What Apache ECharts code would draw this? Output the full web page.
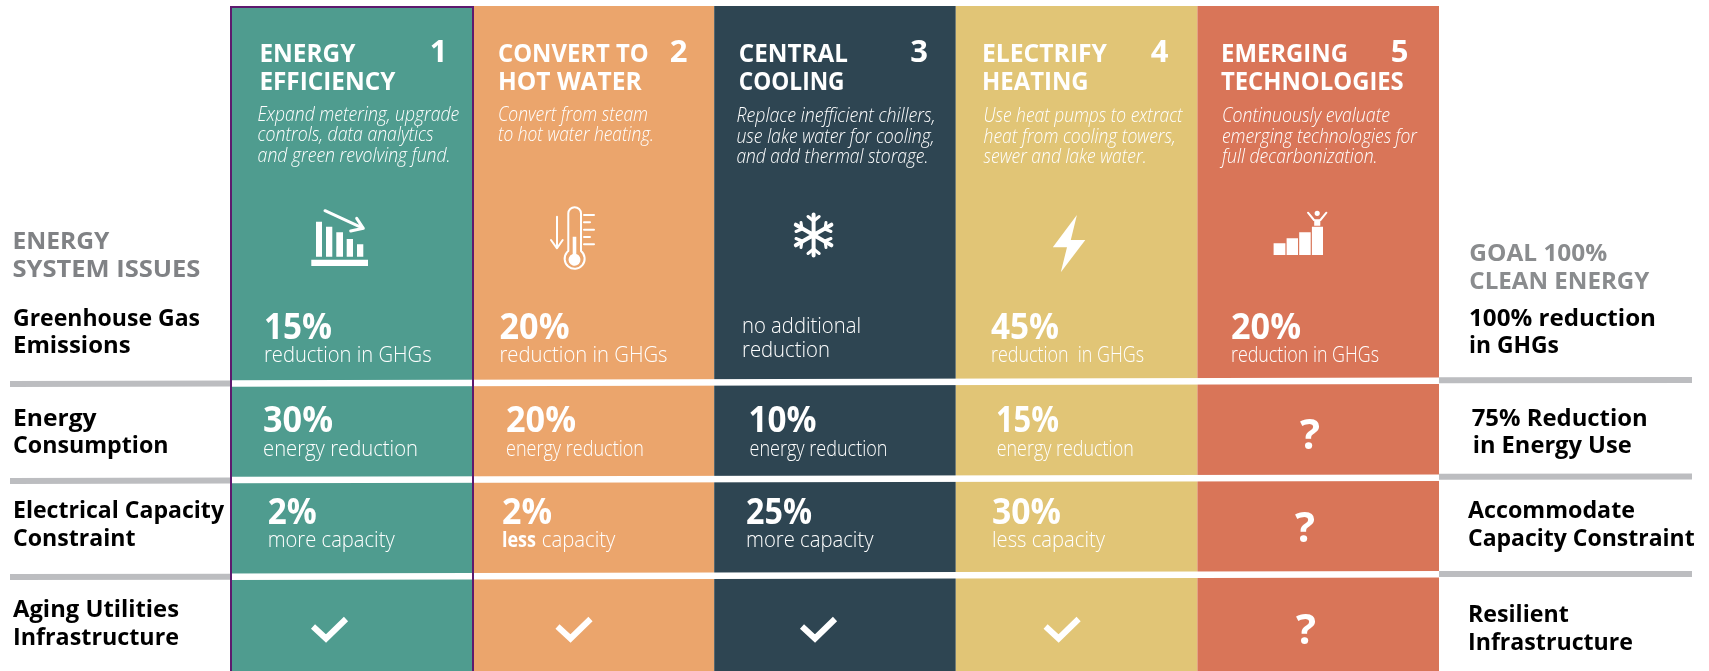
<!DOCTYPE html>
<html>
<head>
<meta charset="utf-8">
<title>Energy system issues</title>
<style>
  html, body { margin: 0; padding: 0; background: #fff; }
  #chart { width: 1709px; height: 671px; }
</style>
<script src="https://cdn.jsdelivr.net/npm/echarts@6/dist/echarts.min.js"></script>
</head>
<body>
<div id="chart"></div>
<script>
// data
const columns = ['Energy Efficiency', 'Convert to Hot Water', 'Central Cooling', 'Electrify Heating', 'Emerging Technologies']
const columnFill = [1, 1, 1, 1, 1]
const columnColors = ['#4f9c8f', '#eba56c', '#2e4552', '#e1c576', '#d97558']
const ghgValues = ['15%', '20%', null, '45%', '20%']
const energyValues = ['30%', '20%', '10%', '15%']
const capacityValues = ['2%', '2%', '25%', '30%']
const whiteRules = [
  [[231, 383.4], [1439, 380.8]],
  [[231, 480], [1439, 477.7]],
  [[231, 576.7], [1439, 574.2]]
]
const greyRules = [
  [[10, 384], [231, 383.6]],
  [[10, 481], [231, 480.6]],
  [[10, 577], [231, 576.8]],
  [[1439, 380.3], [1692, 380]],
  [[1439, 476.8], [1692, 476.5]],
  [[1439, 574], [1692, 574]]
]
// outline of the first column, open at the bottom
const outline = [[231, 672], [231, 7], [473, 7], [473, 672]]

const WHITE = '#ffffff'
const measure = document.createElement('canvas').getContext('2d')
const FONT = '"Open Sans"'
const titleFont = { weight: 700, size: 25 }
const numFont = { weight: 700, size: 31 }
const descFont = { weight: 300, size: 21, italic: true }
const pctFont = { weight: 700, size: 36 }
const subFont = { weight: 300, size: 22 }
const sideFont = { weight: 700, size: 24 }

// text is fitted to the width measured on the reference
const txt = (str, x, base, w, f, fill = WHITE, align = 'left') => {
  const font = `${f.italic ? 'italic ' : ''}${f.weight} ${f.size}px ${FONT}`
  measure.font = font
  return {
    type: 'text',
    x,
    y: base - 0.27 * f.size,
    scaleX: w ? w / measure.measureText(str).width : 1,
    z: 100,
    silent: true,
    style: { text: str, font, fill, align, verticalAlign: 'middle' }
  }
}
const stroke = (pathData, lineWidth) => ({
  type: 'path',
  shape: { pathData },
  style: { fill: 'none', stroke: WHITE, lineWidth, lineCap: 'round', lineJoin: 'round' }
})
const solid = pathData => ({
  type: 'path',
  shape: { pathData },
  style: { fill: WHITE }
})

const texts = [
  // column titles
  txt('ENERGY', 259.4, 62, 96, titleFont), txt('EFFICIENCY', 259.4, 90, 136, titleFont),
  txt('CONVERT TO', 498, 62, 150.6, titleFont), txt('HOT WATER', 498, 90, 143.7, titleFont),
  txt('CENTRAL', 738.8, 62, 109, titleFont), txt('COOLING', 738.8, 90, 105.7, titleFont),
  txt('ELECTRIFY', 982, 62, 125, titleFont), txt('HEATING', 982, 90, 106.6, titleFont),
  txt('EMERGING', 1221, 62, 127, titleFont), txt('TECHNOLOGIES', 1221, 90, 182.7, titleFont),
  txt('1', 438.5, 62, 0, numFont, WHITE, 'center'), txt('2', 678.6, 62, 0, numFont, WHITE, 'center'),
  txt('3', 919, 62, 0, numFont, WHITE, 'center'), txt('4', 1159.5, 62, 0, numFont, WHITE, 'center'),
  txt('5', 1399.5, 62, 0, numFont, WHITE, 'center'),
  // descriptions
  txt('Expand metering, upgrade', 257.6, 121, 201.6, descFont),
  txt('controls, data analytics', 257.6, 141, 176, descFont),
  txt('and green revolving fund.', 257.6, 162, 193, descFont),
  txt('Convert from steam', 498, 121, 150, descFont),
  txt('to hot water heating.', 498, 141, 156, descFont),
  txt('Replace inefficient chillers,', 736.4, 122, 199, descFont),
  txt('use lake water for cooling,', 736.4, 142.5, 198, descFont),
  txt('and add thermal storage.', 736.4, 163, 192, descFont),
  txt('Use heat pumps to extract', 983.6, 122, 199, descFont),
  txt('heat from cooling towers,', 983.6, 142.5, 192, descFont),
  txt('sewer and lake water.', 983.6, 163, 163, descFont),
  txt('Continuously evaluate', 1222, 122, 168, descFont),
  txt('emerging technologies for', 1222, 142.5, 195, descFont),
  txt('full decarbonization.', 1222, 163, 155.6, descFont),
  // greenhouse gas row
  txt(ghgValues[0], 264, 338, 68, pctFont), txt('reduction in GHGs', 264, 362, 167.6, subFont),
  txt(ghgValues[1], 499.5, 338, 70, pctFont), txt('reduction in GHGs', 499.5, 362, 168, subFont),
  txt('no additional', 742, 333, 119, subFont), txt('reduction', 742, 357, 88, subFont),
  txt(ghgValues[3], 991, 338, 68, pctFont), txt('reduction  in GHGs', 991, 362, 153, subFont),
  txt(ghgValues[4], 1231, 338, 70, pctFont), txt('reduction in GHGs', 1231, 362, 148, subFont),
  // energy row
  txt(energyValues[0], 263, 431.7, 70, pctFont), txt('energy reduction', 263, 455.7, 155, subFont),
  txt(energyValues[1], 506, 431.7, 70, pctFont), txt('energy reduction', 506, 455.7, 138, subFont),
  txt(energyValues[2], 748.5, 431.7, 68, pctFont), txt('energy reduction', 749.5, 455.7, 138, subFont),
  txt(energyValues[3], 996, 431.7, 63, pctFont), txt('energy reduction', 996.7, 455.7, 137, subFont),
  // capacity row
  txt(capacityValues[0], 267.7, 523, 49, pctFont), txt('more capacity', 267.7, 547, 127, subFont),
  txt(capacityValues[1], 502, 523, 50, pctFont), txt('less', 502, 547, 34, { weight: 700, size: 22 }),
  txt('capacity', 541.8, 547, 73.5, subFont),
  txt(capacityValues[2], 746, 523, 66, pctFont), txt('more capacity', 746, 547, 127.5, subFont),
  txt(capacityValues[3], 992, 523, 69, pctFont), txt('less capacity', 992, 547, 113, subFont),
  // unknown cells
  txt('?', 1310, 448, 0, { weight: 700, size: 42 }, WHITE, 'center'),
  txt('?', 1305, 541, 0, { weight: 700, size: 42 }, WHITE, 'center'),
  txt('?', 1306, 643, 0, { weight: 700, size: 42 }, WHITE, 'center'),
  // left side
  txt('ENERGY', 12.4, 249, 97, sideFont, '#808285'), txt('SYSTEM ISSUES', 12.4, 276.7, 188, sideFont, '#808285'),
  txt('Greenhouse Gas', 13, 325.7, 187, sideFont, '#000'), txt('Emissions', 13, 353, 117.5, sideFont, '#000'),
  txt('Energy', 13, 425.7, 83.6, sideFont, '#000'), txt('Consumption', 13, 453, 155.6, sideFont, '#000'),
  txt('Electrical Capacity', 13, 518, 211, sideFont, '#000'), txt('Constraint', 13, 546, 122.6, sideFont, '#000'),
  txt('Aging Utilities', 13, 617, 166, sideFont, '#000'), txt('Infrastructure', 13, 645, 166, sideFont, '#000'),
  // right side
  txt('GOAL 100%', 1469.3, 261, 138, sideFont, '#8a8c8e'), txt('CLEAN ENERGY', 1469.3, 288.7, 180, sideFont, '#8a8c8e'),
  txt('100% reduction', 1469, 325.7, 187, sideFont, '#000'), txt('in GHGs', 1469, 353, 90, sideFont, '#000'),
  txt('75% Reduction', 1471.7, 425.7, 176, sideFont, '#000'), txt('in Energy Use', 1472.7, 453, 159, sideFont, '#000'),
  txt('Accommodate', 1468, 518, 167, sideFont, '#000'), txt('Capacity Constraint', 1468, 545.7, 226.7, sideFont, '#000'),
  txt('Resilient', 1468, 621.7, 100.7, sideFont, '#000'), txt('Infrastructure', 1468, 650, 165, sideFont, '#000')
]

const icons = [
  // falling bars
  solid('M316 221.7H322V256.7H316ZM326 226.7H332.3V256.7H326ZM336.3 232.3H343V256.7H336.3ZM346.7 239H353V256.7H346.7ZM357 244.3H363.3V256.7H357ZM311.3 259.7H368V266H311.3Z'),
  stroke('M325 210.7L363.3 228.3M356.7 218.3L363.3 228.3L350.7 231', 3),
  // thermometer
  stroke('M568.3 251V213.5A6.35 6.35 0 0 1 581 213.5V251A10 10 0 1 1 568.3 251Z', 2),
  solid('M572.7 236.7H576.3V254A6 6 0 1 1 572.7 254Z'),
  stroke('M584 215H594M584 222.3H590M584 229.7H594M584 237H590M584 244.3H594', 2),
  stroke('M557 216.7V248.3M551 240L557 248.3L562.7 240', 2),
  // snowflake
  stroke('M813.6 214.5V255.5M795.8 224.7L831.4 245.3M795.8 245.3L831.4 224.7', 4),
  stroke('M808 216.5L813.6 221L819.2 216.5M808 253.5L813.6 249L819.2 253.5', 3),
  stroke('M796 231.5L802 229L801 222.5M831 231.5L825 229L826 222.5M796 238.5L802 241L801 247.5M831 238.5L825 241L826 247.5', 3),
  // lightning bolt
  solid('M1076.9 215L1052.8 247.3H1067L1060.8 272.3L1085.3 240H1070.8Z'),
  // staircase and person
  solid('M1273.6 243.3H1285.4V255H1273.6ZM1286.6 238.3H1298V255H1286.6ZM1299.2 232.3H1310.7V255H1299.2ZM1311.9 226.7H1323V255H1311.9ZM1314.2 219.3H1320.3V225.7H1314.2Z'),
  { type: 'circle', shape: { cx: 1317.2, cy: 213.3, r: 2.6 }, style: { fill: WHITE } },
  stroke('M1308 212.7L1314 220M1326.4 212.7L1320.4 220', 2)
]

// check marks for the ageing infrastructure row
const checkOffsets = [0, 244.5, 489, 732.6]
const checks = checkOffsets.map(dx => ({
  type: 'path',
  shape: { pathData: `M${313 + dx} 626.5L${326 + dx} 638.5L${346 + dx} 619` },
  style: { fill: 'none', stroke: WHITE, lineWidth: 6, lineCap: 'butt', lineJoin: 'miter' }
}))

const myChart = echarts.init(document.getElementById('chart'))
const ruleSeries = (line, color, width, z = 3) => ({
  type: 'line',
  xAxisIndex: 1,
  yAxisIndex: 1,
  data: line,
  symbol: 'none',
  silent: true,
  z,
  lineStyle: { color, width, cap: 'butt', join: 'miter' }
})

myChart.setOption({
  animation: false,
  backgroundColor: '#ffffff',
  grid: [
    { left: 231, right: 270, top: 6, bottom: 0 },
    { left: 0, right: 0, top: 0, bottom: 0 }
  ],
  xAxis: [
    { type: 'category', data: columns, show: false, gridIndex: 0 },
    { type: 'value', min: 0, max: 1709, show: false, gridIndex: 1 }
  ],
  yAxis: [
    { type: 'value', min: 0, max: 1, show: false, gridIndex: 0 },
    { type: 'value', min: 0, max: 671, inverse: true, show: false, gridIndex: 1 }
  ],
  series: [
    {
      type: 'bar',
      data: columnFill.map((v, i) => ({ value: v, itemStyle: { color: columnColors[i] } })),
      barWidth: '100%',
      silent: true,
      z: 2
    },
    ...whiteRules.map(r => ruleSeries(r, WHITE, 6.5)),
    ...greyRules.map(r => ruleSeries(r, '#bcbdc0', 6)),
    ruleSeries(outline, '#5e1a6e', 2, 4),
    {
      // icons and check marks
      type: 'custom',
      coordinateSystem: 'none',
      data: [0],
      silent: true,
      z: 5,
      renderItem: () => ({ type: 'group', children: [...icons, ...checks] })
    }
  ],
  graphic: { elements: texts }
})
window.addEventListener('resize', () => myChart.resize())
</script>
</body>
</html>
